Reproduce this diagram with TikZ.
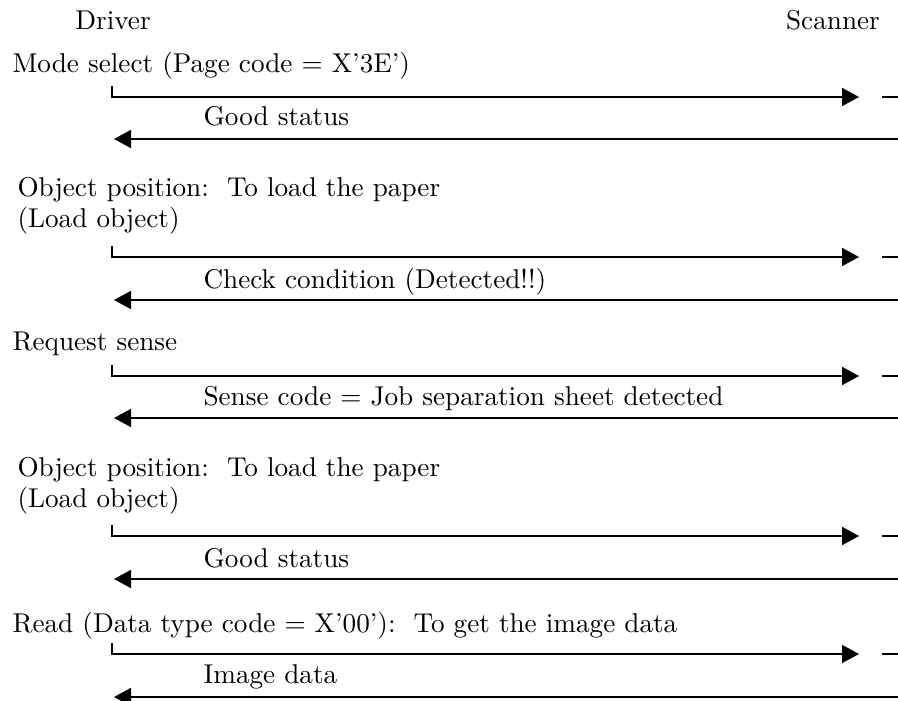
\documentclass[tikz,border=0pt]{standalone}
\usetikzlibrary{arrows.meta}
\begin{document}
\begin{tikzpicture}[x=1pt,y=-1pt,
  lbl/.style={anchor=base west,inner sep=0pt,font=\fontsize{10}{11.1}\selectfont,scale=2.72,align=left},
  hdr/.style={anchor=base,inner sep=0pt,font=\fontsize{10}{11.1}\selectfont,scale=2.72},
  msg/.style={line width=1.6pt,-{Triangle[length=17pt,width=18pt]}},
  plainline/.style={line width=1.6pt},
]
\useasboundingbox (0,0) rectangle (898,701);

\node[hdr] (driver) at (113,30) {Driver};
\node[hdr] (scanner) at (833,30) {Scanner};

% Block 1
\node[lbl] (l1) at (12,73) {Mode select (Page code $=$ X'3E')};
\coordinate (t1) at (112,86);
\coordinate (d1) at (112,97);
\coordinate (s1) at (859,97);
\coordinate (g1) at (882,97);
\coordinate (e1) at (898,97);
\draw[msg] (t1) -- (d1) -- (s1);
\draw[plainline] (g1) -- (e1);
\node[lbl] (r1) at (203,125) {Good status};
\coordinate (rs1) at (898,139);
\coordinate (rd1) at (114,139);
\draw[msg] (rs1) -- (rd1);

% Block 2
\node[lbl] (l2) at (17,227) {Object position:\ \ To load the paper\\(Load object)};
\coordinate (t2) at (112,246);
\coordinate (d2) at (112,257);
\coordinate (s2) at (859,257);
\coordinate (g2) at (882,257);
\coordinate (e2) at (898,257);
\draw[msg] (t2) -- (d2) -- (s2);
\draw[plainline] (g2) -- (e2);
\node[lbl] (r2) at (203,288) {Check condition (Detected!!)};
\coordinate (rs2) at (898,300);
\coordinate (rd2) at (114,300);
\draw[msg] (rs2) -- (rd2);

% Block 3
\node[lbl] (l3) at (12,350) {Request sense};
\coordinate (t3) at (112,365);
\coordinate (d3) at (112,376);
\coordinate (s3) at (859,376);
\coordinate (g3) at (882,376);
\coordinate (e3) at (898,376);
\draw[msg] (t3) -- (d3) -- (s3);
\draw[plainline] (g3) -- (e3);
\node[lbl] (r3) at (203,405) {Sense code $=$ Job separation sheet detected};
\coordinate (rs3) at (898,418);
\coordinate (rd3) at (114,418);
\draw[msg] (rs3) -- (rd3);

% Block 4
\node[lbl] (l4) at (17,507) {Object position:\ \ To load the paper\\(Load object)};
\coordinate (t4) at (112,525);
\coordinate (d4) at (112,536);
\coordinate (s4) at (859,536);
\coordinate (g4) at (882,536);
\coordinate (e4) at (898,536);
\draw[msg] (t4) -- (d4) -- (s4);
\draw[plainline] (g4) -- (e4);
\node[lbl] (r4) at (203,567) {Good status};
\coordinate (rs4) at (898,579);
\coordinate (rd4) at (114,579);
\draw[msg] (rs4) -- (rd4);

% Block 5
\node[lbl] (l5) at (12,632) {Read (Data type code $=$ X'00'):\ \ To get the image data};
\coordinate (t5) at (112,643);
\coordinate (d5) at (112,654);
\coordinate (s5) at (859,654);
\coordinate (g5) at (882,654);
\coordinate (e5) at (898,654);
\draw[msg] (t5) -- (d5) -- (s5);
\draw[plainline] (g5) -- (e5);
\node[lbl] (r5) at (203,683) {Image data};
\coordinate (rs5) at (898,697);
\coordinate (rd5) at (114,697);
\draw[msg] (rs5) -- (rd5);
\end{tikzpicture}
\end{document}
